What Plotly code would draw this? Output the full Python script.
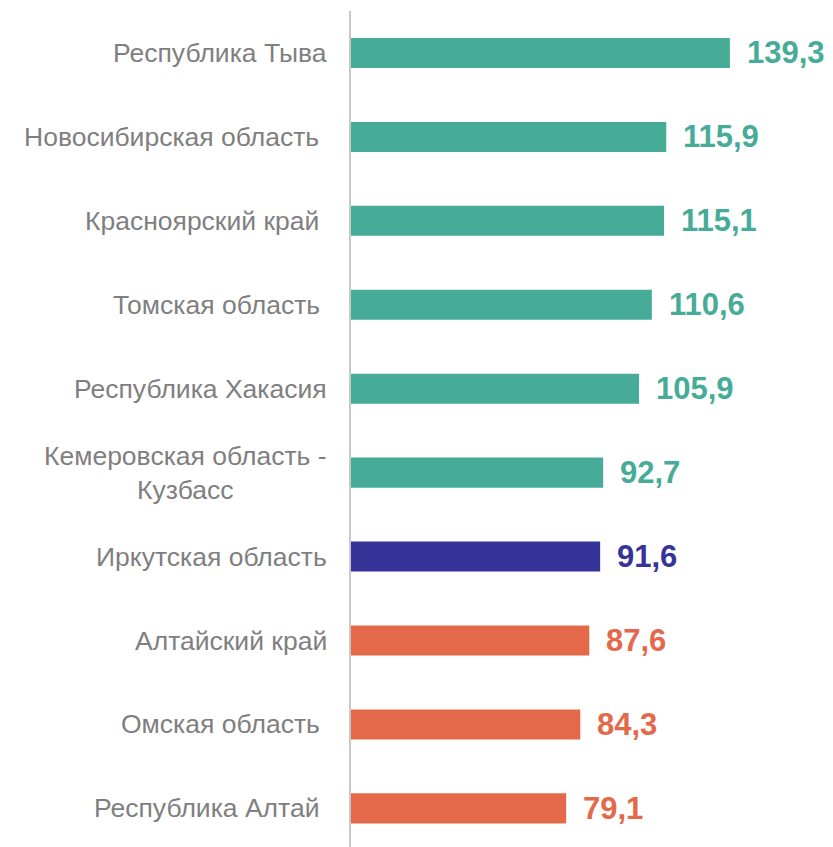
import plotly.graph_objects as go

regions = [
    "Республика Тыва",
    "Новосибирская область ",
    "Красноярский край ",
    "Томская область ",
    "Республика Хакасия",
    "Кемеровская область -<br>Кузбасс",
    "Иркутская область",
    "Алтайский край",
    "Омская область ",
    "Республика Алтай ",
]
values = [139.3, 115.9, 115.1, 110.6, 105.9, 92.7, 91.6, 87.6, 84.3, 79.1]
groups = ["above", "above", "above", "above", "above", "above", "self", "below", "below", "below"]

palette = {"above": "#46AC98", "self": "#363399", "below": "#E4694A"}
colors = [palette[g] for g in groups]

idx = list(range(len(regions)))

fig = go.Figure(go.Bar(
    x=values, y=idx, orientation="h",
    marker=dict(color=colors, line=dict(width=0)),
    hoverinfo="skip",
))

annotations = []
for i, (r, v, c) in enumerate(zip(regions, values, colors)):
    annotations.append(dict(
        x=0, xref="paper", y=i, yref="y",
        text=r[:-1] + "\u00a0" if r.endswith(" ") else r,
        xanchor="right", yanchor="middle", align="center", showarrow=False,
        xshift=-22, font=dict(family="Liberation Sans, Arial", size=26.5, color="#7F7F7F"),
    ))
    annotations.append(dict(
        x=v, xref="x", y=i, yref="y", text=f"<b>{v:.1f}</b>".replace(".", ","),
        xanchor="left", yanchor="middle", showarrow=False, xshift=15,
        font=dict(family="Liberation Sans, Arial", size=31, color=c),
    ))

fig.update_layout(
    width=825, height=839,
    margin=dict(l=343, r=0, t=3, b=0),
    paper_bgcolor="white", plot_bgcolor="white",
    bargap=0.642,
    showlegend=False,
    annotations=annotations,
    xaxis=dict(range=[0, 177.2], visible=False, fixedrange=True),
    yaxis=dict(range=[9.46, -0.5], showticklabels=False, showgrid=False, zeroline=False,
               showline=True, linecolor="#C8C8C8", linewidth=2, ticks="", fixedrange=True),
)

fig.write_html("out.html")
